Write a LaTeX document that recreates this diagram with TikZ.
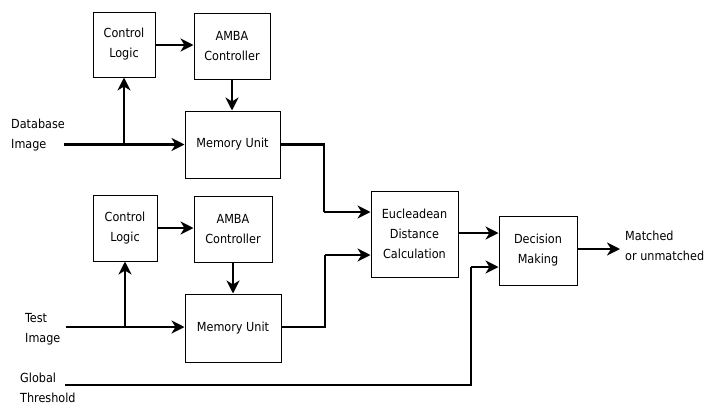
\documentclass[tikz,border=0pt]{standalone}
\usepackage{fontspec}
\setmainfont{DejaVu Sans Condensed}
\usetikzlibrary{arrows.meta,calc}
\begin{document}
\begin{tikzpicture}[x=1pt,y=-1pt,
  blk/.style={draw,line width=1pt,rectangle,align=center,inner sep=1pt,font=\fontsize{12.5}{20}\selectfont},
  lbl/.style={align=left,anchor=west,inner sep=0pt,font=\fontsize{12.5}{20}\selectfont},
  arr/.style={line width=2.6pt,-{Stealth[length=13pt,width=13pt,inset=4pt]}},
  ln/.style={line width=2.6pt}]
\useasboundingbox (0,0) rectangle (719,407);
% top branch
\node[blk,minimum width=62pt,minimum height=65pt] (cl1) at (124,44.5) {Control\\Logic};
\node[blk,minimum width=76pt,minimum height=66pt] (am1) at (232,46) {AMBA\\Controller};
\node[blk,minimum width=95pt,minimum height=67pt] (mu1) at (232.5,144.5) {Memory Unit};
% bottom branch
\node[blk,minimum width=64pt,minimum height=66pt] (cl2) at (125,228) {Control\\Logic};
\node[blk,minimum width=78pt,minimum height=66pt] (am2) at (233,229) {AMBA\\Controller};
\node[blk,minimum width=96pt,minimum height=68pt] (mu2) at (233,328) {Memory Unit};
% right
\node[blk,minimum width=87pt,minimum height=86pt] (eu) at (414.5,234) {Eucleadean\\Distance\\Calculation};
\node[blk,minimum width=78pt,minimum height=69pt] (dm) at (538,250.5) {Decision\\Making};
% labels
\node[lbl] (db) at (11,135) {Database\\Image};
\node[lbl] (ti) at (25,329) {Test\\Image};
\node[lbl] (gt) at (20,388) {Global\\Threshold};
\node[lbl] (mo) at (625,246) {Matched\\or unmatched};
% coordinates
\coordinate (dbs) at (64,144.5);
\coordinate (tis) at (66,327);
\coordinate (gts) at (65,385);
\coordinate (j1) at (324,212);
\coordinate (j2) at (325,255);
\coordinate (j3) at (471,267);
\coordinate (out) at (620,249);
% connectors top
\draw[arr] (dbs) -- (mu1.west);
\draw[arr] (cl1.south |- mu1.west) -- (cl1.south);
\draw[arr] (cl1.east |- 0,45) -- (am1.west |- 0,45);
\draw[arr] (am1.south) -- (am1.south |- mu1.north);
\draw[ln] (mu1.east) -| (j1);
\draw[arr] (j1) -- (eu.west |- j1);
% connectors bottom
\draw[arr] (tis) -- (mu2.west |- tis);
\draw[arr] (cl2.south |- tis) -- (cl2.south);
\draw[arr] (cl2.east |- 0,228) -- (am2.west |- 0,228);
\draw[arr] (am2.south) -- (am2.south |- mu2.north);
\draw[ln] (mu2.east |- tis) -| (j2);
\draw[arr] (j2) -- (eu.west |- j2);
% right side
\draw[arr] (eu.east |- 0,233) -- (dm.west |- 0,233);
\draw[ln] (gts) -| (j3);
\draw[arr] (j3) -- (dm.west |- j3);
\draw[arr] (dm.east |- out) -- (out);
\end{tikzpicture}
\end{document}
